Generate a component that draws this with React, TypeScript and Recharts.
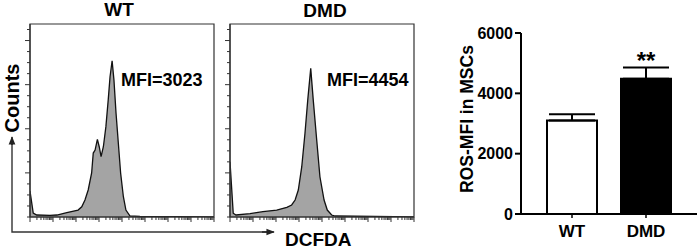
import React from 'react';
import {
  AreaChart, Area, XAxis, YAxis, ReferenceArea,
  BarChart, Bar, ErrorBar, LabelList, Cell,
} from 'recharts';

const FONT = '"Liberation Sans", Arial, Helvetica, sans-serif';

// ---- Histogram data (x in log decades, y in count tick units) ----
const WT_X = [0, 0.14, 0.29, 0.87, 1.17, 1.6, 2.09, 2.25, 2.39, 2.53, 2.68, 2.75, 2.83, 2.93, 3.01, 3.09, 3.19, 3.3, 3.4, 3.48, 3.57, 3.65, 3.74, 3.84, 3.94, 4.06, 4.17, 4.35, 4.78, 8];
const WT_Y = [2.36, 0.36, 0.18, 0.14, 0.18, 0.39, 0.63, 0.93, 1.54, 2.45, 3.99, 5.8, 6.07, 7.04, 6.37, 5.47, 6.37, 8.19, 10.6, 12.72, 14.17, 12.42, 9.43, 6.71, 3.99, 1.84, 0.63, 0.09, 0.05, 0];
const DMD_X = [0, 0.14, 0.26, 0.87, 1.43, 2.03, 2.47, 2.68, 2.83, 2.97, 3.12, 3.26, 3.38, 3.51, 3.62, 3.77, 3.91, 4.09, 4.23, 4.42, 4.57, 8];
const DMD_Y = [5.01, 0.34, 0.18, 0.3, 0.48, 0.63, 0.88, 1.09, 1.54, 2.45, 4.56, 7.59, 10.6, 13.48, 10.6, 6.98, 3.65, 1.54, 0.63, 0.18, 0.09, 0];

const HIST_TITLES = ['WT', 'DMD'];
const MFI_LABELS = ['MFI=3023', 'MFI=4454'];
const COUNT_TICKS = [0, 1, 2, 3, 4, 5, 6, 7, 8, 9, 10, 11, 12, 13, 14, 15, 16, 17];
const COUNT_MAJOR = [4, 8, 12, 16];
const LOG_DECADES = [0, 1, 2, 3, 4, 5, 6, 7];
const LOG_MINOR = [0.301, 0.477, 0.602, 0.699, 0.778, 0.845, 0.903, 0.954];
const X_TICKS = [
  ...LOG_DECADES.flatMap((d) => [d, ...LOG_MINOR.map((m) => d + m)]),
  8,
];

// ---- Bar chart data ----
const BAR_CATEGORIES = ['WT', 'DMD'];
const BAR_MEANS = [3100, 4480];
const BAR_ERRORS = [210, 380];
const BAR_SIG = ['', '**'];
const BAR_FILLS = ['#ffffff', '#000000'];
const BAR_TICKS = [0, 2000, 4000, 6000];

const FRAME = '#333';

const XTick = (p: any) => {
  const major = Number.isInteger(p.payload.value);
  const len = major ? 5 : 3;
  return <line x1={p.x} x2={p.x} y1={p.y} y2={p.y + len} stroke={FRAME} strokeWidth={1} />;
};
const YTick = (p: any) => {
  const major = COUNT_MAJOR.includes(p.payload.value);
  const len = major ? 5 : 3;
  return <line x1={p.x - len} x2={p.x} y1={p.y} y2={p.y} stroke={FRAME} strokeWidth={1} />;
};

function Histogram({ xs, ys, left }: { xs: number[]; ys: number[]; left: number }) {
  const data = xs.map((x, i) => ({ x, y: ys[i] }));
  return (
    <div style={{ position: 'absolute', left, top: 0 }}>
      <AreaChart width={220} height={249} data={data} margin={{ top: 24, right: 6, bottom: 26, left: 24 }}>
        <XAxis type="number" dataKey="x" domain={[0, 8]} ticks={X_TICKS} interval={0} height={6}
          tickSize={0} tickMargin={0} tickLine={false} allowDataOverflow
          axisLine={{ stroke: FRAME, strokeWidth: 1.2 }} tick={(p: any) => <XTick {...p} />} />
        <YAxis type="number" domain={[0, 17.5]} ticks={COUNT_TICKS} interval={0} width={6}
          tickSize={0} tickMargin={0} tickLine={false} allowDataOverflow
          axisLine={{ stroke: FRAME, strokeWidth: 1.2 }} tick={(p: any) => <YTick {...p} />} />
        <Area type="linear" dataKey="y" stroke="#111" strokeWidth={1.3} fill="#a4a4a4" fillOpacity={1}
          isAnimationActive={false} dot={false} activeDot={false} />
        <ReferenceArea x1={0} x2={8} y1={0} y2={17.5} fill="none" fillOpacity={0} stroke={FRAME}
          strokeWidth={1.2} ifOverflow="visible" />
      </AreaChart>
    </div>
  );
}

const renderSig = (p: any) => {
  if (!p.value) return null;
  return (
    <text x={p.x + p.width / 2} y={p.y - 10} textAnchor="middle" fontSize={24} fontWeight="bold"
      fontFamily={FONT} fill="#000">{p.value}</text>
  );
};

export default function App() {
  const barData = BAR_CATEGORIES.map((c, i) => ({
    name: c, mean: BAR_MEANS[i], err: [0, BAR_ERRORS[i]], sig: BAR_SIG[i],
  }));
  const boldText = { fontFamily: FONT, fontWeight: 'bold' as const, fill: '#000' };
  return (
    <div style={{ position: 'absolute', left: 0, top: 0, width: 699, height: 249, background: '#fff', overflow: 'hidden' }}>
      <Histogram xs={WT_X} ys={WT_Y} left={0} />
      <Histogram xs={DMD_X} ys={DMD_Y} left={200} />
      <div style={{ position: 'absolute', left: 450, top: 0 }}>
        <BarChart width={249} height={249} data={barData} margin={{ top: 33, right: 2, bottom: 0, left: 0 }}>
          <XAxis dataKey="name" height={35} padding={{ left: 14, right: 14 }} interval={0}
            tickSize={4} tickMargin={7}
            axisLine={{ stroke: '#000', strokeWidth: 2 }} tickLine={{ stroke: '#000', strokeWidth: 1.5 }}
            tick={{ fontSize: 17, fontWeight: 'bold', fontFamily: FONT, fill: '#000' }} />
          <YAxis type="number" domain={[0, 6000]} ticks={BAR_TICKS} interval={0} width={71}
            tickSize={6} tickMargin={2}
            axisLine={{ stroke: '#000', strokeWidth: 2 }} tickLine={{ stroke: '#000', strokeWidth: 2 }}
            tick={{ fontSize: 16, fontWeight: 'bold', fontFamily: FONT, fill: '#000' }} />
          <Bar dataKey="mean" barSize={50} isAnimationActive={false}>
            {barData.map((d, i) => (
              <Cell key={d.name} fill={BAR_FILLS[i]} stroke="#000" strokeWidth={2} />
            ))}
            <ErrorBar dataKey="err" width={23} stroke="#000" strokeWidth={2} direction="y" isAnimationActive={false} />
            <LabelList dataKey="sig" content={renderSig} />
          </Bar>
        </BarChart>
      </div>
      <svg width={699} height={249} style={{ position: 'absolute', left: 0, top: 0, pointerEvents: 'none' }}>
        <defs>
          <marker id="arr" viewBox="0 0 10 10" refX="9" refY="5" markerWidth="6" markerHeight="6" orient="auto">
            <path d="M0,1 L10,5 L0,9 z" fill="#222" />
          </marker>
        </defs>
        <polyline points="12,141 12,232 270,232" fill="none" stroke="#333" strokeWidth={1.4} />
        <line x1={12} y1={145} x2={12} y2={137} stroke="#222" strokeWidth={1.4} markerEnd="url(#arr)" />
        <line x1={262} y1={232} x2={274} y2={232} stroke="#222" strokeWidth={1.4} markerEnd="url(#arr)" />
        <text x={18.5} y={98} transform="rotate(-90 18.5 98)" textAnchor="middle" fontSize={20} {...boldText}>Counts</text>
        <text x={285} y={246} fontSize={19} {...boldText}>DCFDA</text>
        <text x={119} y={16} textAnchor="middle" fontSize={19} {...boldText}>{HIST_TITLES[0]}</text>
        <text x={325} y={17} textAnchor="middle" fontSize={19} {...boldText}>{HIST_TITLES[1]}</text>
        <text x={121} y={86} fontSize={18} {...boldText}>{MFI_LABELS[0]}</text>
        <text x={327} y={86} fontSize={18} {...boldText}>{MFI_LABELS[1]}</text>
        <text x={473} y={119} transform="rotate(-90 473 119)" textAnchor="middle" fontSize={17.5} {...boldText}>ROS-MFI in MSCs</text>
      </svg>
    </div>
  );
}
